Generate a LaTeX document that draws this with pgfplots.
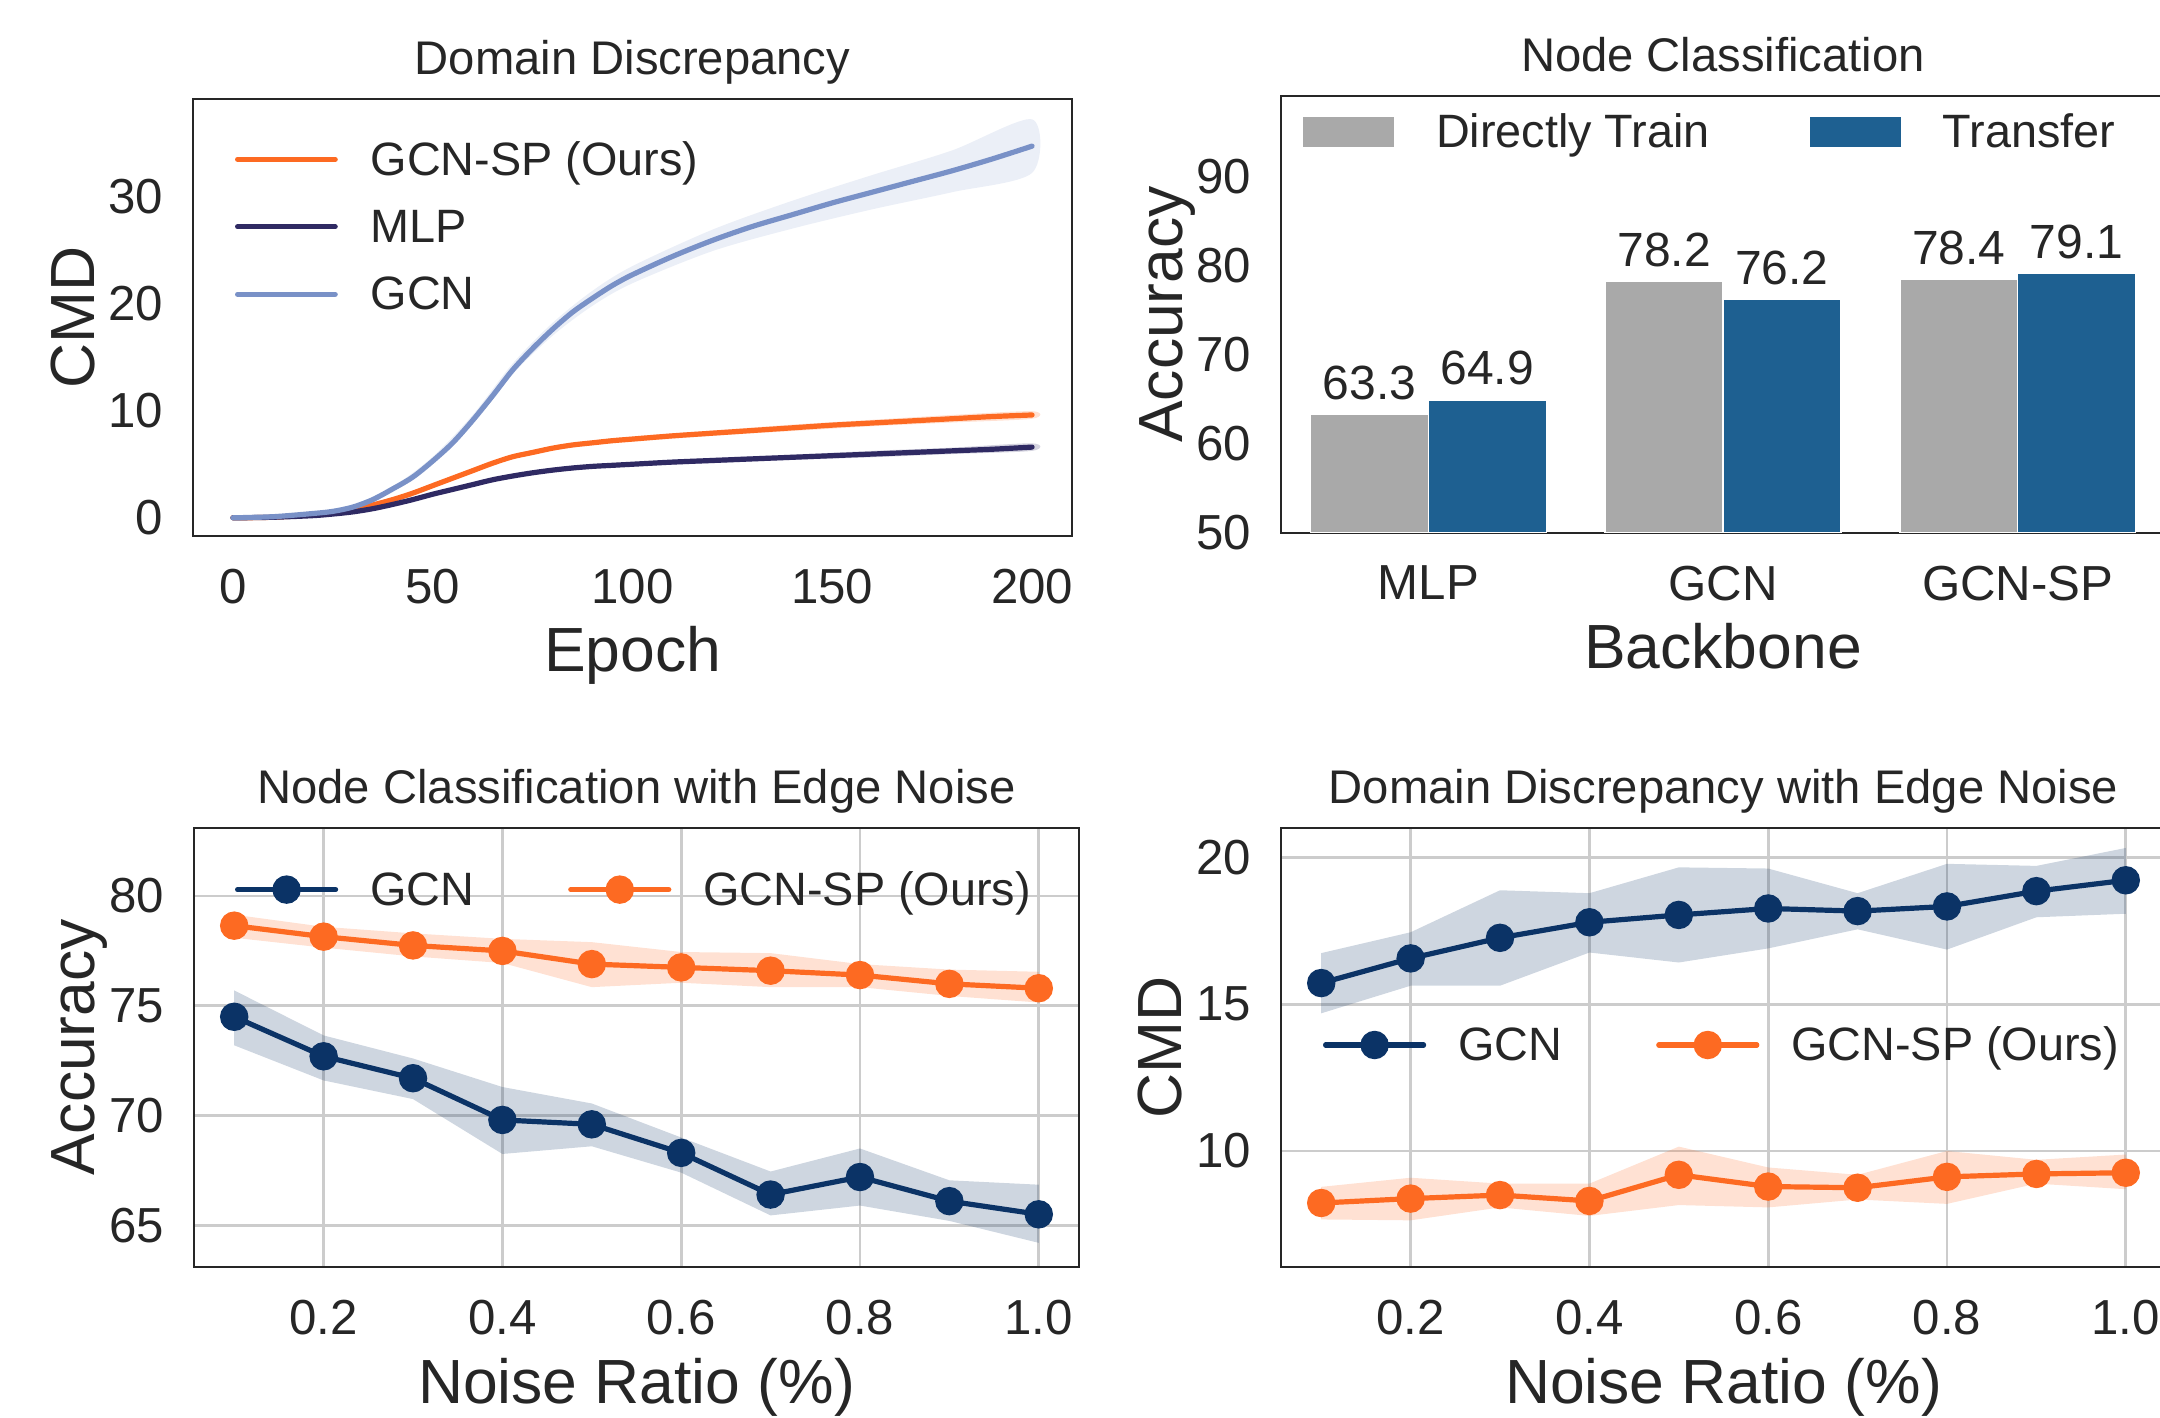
\documentclass[border=0pt]{standalone}
\usepackage{fontspec}
\setmainfont{Liberation Sans}
\usepackage{pgfplots}
\pgfplotsset{compat=1.18}

\definecolor{cor}{RGB}{253,106,34}
\definecolor{cmlp}{RGB}{47,42,99}
\definecolor{cgcn}{RGB}{121,145,199}
\definecolor{cgray}{RGB}{169,169,169}
\definecolor{cblue}{RGB}{30,96,145}
\definecolor{cnavy}{RGB}{11,51,102}
\definecolor{ctxt}{RGB}{38,38,38}
\definecolor{cgrid}{RGB}{204,204,204}

\newcommand{\tickfont}{\fontsize{12.3bp}{14bp}\selectfont}
\newcommand{\labfont}{\fontsize{15.6bp}{18bp}\selectfont}
\newcommand{\titfont}{\fontsize{11.8bp}{14bp}\selectfont}
\newcommand{\legfont}{\fontsize{11.7bp}{14bp}\selectfont}
\newcommand{\barfont}{\fontsize{12bp}{14bp}\selectfont}

\pgfplotsset{
  myaxis/.style={
    scale only axis,
    axis line style={ctxt, line width=0.6bp},
    major tick length=0pt,
    tick style={draw=none},
    /pgf/number format/assume math mode=true,
    tick label style={font=\tickfont, text=ctxt, inner sep=0pt},
    yticklabel style={xshift=-7.3bp},
    xticklabel style={yshift=-8bp},
    every axis title/.style={font=\titfont, text=ctxt, at={(axis description cs:0.5,1)}, anchor=base, yshift=6.1bp, inner sep=0pt},
    xlabel style={font=\labfont, text=ctxt, at={(axis description cs:0.5,-0.31)}, anchor=base, inner sep=0pt},
    ylabel style={font=\labfont, text=ctxt, at={(axis description cs:-0.112,0.5)}, anchor=base, inner sep=0pt},
    legend style={draw=none, fill=none, inner sep=0pt, outer sep=0pt, font=\legfont,
      nodes={inner sep=0pt, text height=9.4bp, text depth=1.6bp, text=ctxt}},
    legend cell align=left,
  },
  noisegrid/.style={
    grid=major, grid style={cgrid, line width=0.7bp},
    xmin=0.055, xmax=1.045,
    xtick={0.2,0.4,0.6,0.8,1.0},
    xticklabel={\pgfmathprintnumber[fixed,fixed zerofill,precision=1]{\tick}},
    legend columns=2,
    legend style={/tikz/every odd column/.append style={column sep=8bp},
                  /tikz/every even column/.append style={column sep=23.5bp}},
    legend image code/.code={\draw[mark repeat=2,mark phase=2,#1] plot coordinates {(0bp,0bp) (12.25bp,0bp) (24.5bp,0bp)};},
  },
}

\begin{document}
\begin{tikzpicture}

% ---------------- Top left: Domain Discrepancy ----------------
\begin{axis}[myaxis,
  at={(48.25bp,-24.75bp)}, anchor=north west,
  width=219.75bp, height=109.25bp,
  xmin=-10, xmax=210, ymin=-1.7, ymax=39.1,
  xtick={0,50,100,150,200}, ytick={0,10,20,30},
  title={Domain Discrepancy}, xlabel={Epoch}, ylabel={CMD},
  legend style={at={(axis description cs:0,1)}, anchor=north west, xshift=10.5bp, yshift=-9.6bp,
    row sep=5.85bp, /tikz/every odd column/.append style={column sep=8.2bp}},
  legend image code/.code={\draw[#1, line cap=round] (0bp,0bp) -- (24.4bp,0bp);},
]
\addplot[draw=none, fill=cor, fill opacity=0.2, smooth, forget plot] coordinates {
(0,0.05)(20,0.35)(30,0.85)(40,1.8)(50,3.1)(60,4.55)(70,5.9)(80,6.7)(90,7.2)(100,7.6)(120,8.15)(140,8.7)(160,9.15)(180,9.6)(200,9.95)
(200,9.25)(180,8.9)(160,8.55)(140,8.1)(120,7.65)(100,7.1)(90,6.8)(80,6.3)(70,5.5)(60,4.25)(50,2.9)(40,1.6)(30,0.75)(20,0.25)(0,-0.05)} -- cycle;
\addplot[draw=none, fill=cmlp, fill opacity=0.2, smooth, forget plot] coordinates {
(0,0.05)(20,0.25)(30,0.6)(40,1.35)(50,2.3)(60,3.25)(70,4.05)(80,4.65)(90,5.0)(100,5.2)(120,5.6)(140,5.9)(160,6.25)(180,6.55)(200,6.95)
(200,6.25)(180,5.95)(160,5.65)(140,5.4)(120,5.1)(100,4.8)(90,4.6)(80,4.25)(70,3.75)(60,2.95)(50,2.1)(40,1.15)(30,0.5)(20,0.15)(0,-0.05)} -- cycle;
\addplot[draw=none, fill=cgcn, fill opacity=0.15, smooth, forget plot] coordinates {
(0,0.1)(20,0.5)(30,1.1)(40,2.9)(50,5.7)(60,9.6)(70,14.4)(80,18.2)(90,21.2)(100,23.5)(120,26.9)(140,29.6)(160,32.0)(180,34.3)(200,37.2)
(200,32.2)(180,30.4)(160,28.8)(140,27.0)(120,24.9)(100,21.9)(90,19.8)(80,17.0)(70,13.4)(60,8.8)(50,5.1)(40,2.5)(30,0.9)(20,0.3)(0,-0.1)} -- cycle;

\addplot[cor, line width=1.3bp, smooth, line cap=round] coordinates {
(0,0)(10,0.05)(20,0.3)(25,0.5)(30,0.8)(35,1.2)(40,1.7)(45,2.3)(50,3.0)(55,3.7)(60,4.4)(65,5.1)(70,5.7)(75,6.1)(80,6.5)(85,6.8)(90,7.0)(95,7.2)(100,7.35)
(110,7.65)(120,7.9)(130,8.15)(140,8.4)(150,8.65)(160,8.85)(170,9.05)(180,9.25)(190,9.45)(200,9.6)};
\addlegendentry{GCN-SP (Ours)}
\addplot[cmlp, line width=1.3bp, smooth, line cap=round] coordinates {
(0,0)(10,0.05)(20,0.2)(25,0.35)(30,0.55)(35,0.85)(40,1.25)(45,1.7)(50,2.2)(55,2.65)(60,3.1)(65,3.55)(70,3.9)(75,4.2)(80,4.45)(85,4.65)(90,4.8)(95,4.9)(100,5.0)
(110,5.2)(120,5.35)(130,5.5)(140,5.65)(150,5.8)(160,5.95)(170,6.1)(180,6.25)(190,6.4)(200,6.6)};
\addlegendentry{MLP}
\addplot[cgcn, line width=1.3bp, smooth, line cap=round] coordinates {
(0,0)(10,0.1)(20,0.4)(25,0.6)(30,1.0)(35,1.7)(40,2.7)(45,3.8)(50,5.3)(55,7.0)(60,9.1)(65,11.4)(70,13.8)(75,15.8)(80,17.6)(85,19.2)(90,20.5)(95,21.7)(100,22.7)
(110,24.4)(120,25.9)(130,27.2)(140,28.3)(150,29.4)(160,30.4)(170,31.4)(180,32.4)(190,33.5)(200,34.7)};
\addlegendentry{GCN}
\end{axis}

% ---------------- Top right: Node Classification ----------------
\begin{axis}[myaxis,
  at={(320.25bp,-24bp)}, anchor=north west,
  width=221bp, height=109.25bp,
  ybar=0pt, bar width=0.4,
  xmin=-0.5, xmax=2.5, ymin=50, ymax=99,
  xtick={0,1,2}, xticklabels={MLP,GCN,GCN-SP}, ytick={50,60,70,80,90},
  title={Node Classification}, xlabel={Backbone}, ylabel={Accuracy},
  nodes near coords,
  every node near coord/.append style={font=\barfont, text=ctxt, anchor=south, inner sep=0pt, yshift=3.5bp},
  legend columns=2,
  legend style={at={(axis description cs:0,1)}, anchor=north west, xshift=5.4bp, yshift=-3.5bp,
    /tikz/every odd column/.append style={column sep=10.5bp},
    /tikz/every even column/.append style={column sep=24.9bp}},
]
\addplot[fill=cgray, draw=white, line width=0.35bp,
  legend image code/.code={\fill[cgray] (0bp,-3.5bp) rectangle (22.5bp,3.5bp);}]
  coordinates {(0,63.3) (1,78.2) (2,78.4)};
\addlegendentry{Directly Train}
\addplot[fill=cblue, draw=white, line width=0.35bp,
  legend image code/.code={\fill[cblue] (0bp,-3.5bp) rectangle (22.5bp,3.5bp);}]
  coordinates {(0,64.9) (1,76.2) (2,79.1)};
\addlegendentry{Transfer}
\end{axis}

% ---------------- Bottom left: Node Classification with Edge Noise ----------------
\begin{axis}[myaxis, noisegrid,
  at={(48.5bp,-207bp)}, anchor=north west,
  width=221.25bp, height=109.75bp,
  ymin=63.1, ymax=83.1, ytick={65,70,75,80},
  title={Node Classification with Edge Noise}, xlabel={Noise Ratio (\%)}, ylabel={Accuracy},
  legend style={at={(axis description cs:0,1)}, anchor=north west, xshift=10.25bp, yshift=-9.9bp},
]
\addplot[draw=none, fill=cnavy, fill opacity=0.2, forget plot] coordinates {
(0.1,75.7)(0.2,73.65)(0.3,72.6)(0.4,71.3)(0.5,70.55)(0.6,69.0)(0.7,67.45)(0.8,68.5)(0.9,67.05)(1.0,66.85)
(1.0,64.2)(0.9,65.2)(0.8,65.9)(0.7,65.45)(0.6,67.4)(0.5,68.6)(0.4,68.25)(0.3,70.75)(0.2,71.6)(0.1,73.2)} -- cycle;
\addplot[draw=none, fill=cor, fill opacity=0.2, forget plot] coordinates {
(0.1,79.15)(0.2,78.6)(0.3,78.3)(0.4,78.05)(0.5,77.9)(0.6,77.45)(0.7,77.4)(0.8,76.9)(0.9,76.65)(1.0,76.55)
(1.0,75.15)(0.9,75.45)(0.8,75.85)(0.7,75.85)(0.6,76.05)(0.5,75.85)(0.4,76.95)(0.3,77.25)(0.2,77.65)(0.1,78.1)} -- cycle;
\addplot[cnavy, line width=1.3bp, line cap=round, mark=*, mark size=2.9bp, mark options={solid, fill=cnavy, draw=cnavy}] coordinates {
(0.1,74.5)(0.2,72.7)(0.3,71.7)(0.4,69.8)(0.5,69.6)(0.6,68.3)(0.7,66.4)(0.8,67.2)(0.9,66.1)(1.0,65.5)};
\addlegendentry{GCN}
\addplot[cor, line width=1.3bp, line cap=round, mark=*, mark size=2.9bp, mark options={solid, fill=cor, draw=cor}] coordinates {
(0.1,78.65)(0.2,78.15)(0.3,77.75)(0.4,77.5)(0.5,76.9)(0.6,76.75)(0.7,76.6)(0.8,76.4)(0.9,76.0)(1.0,75.8)};
\addlegendentry{GCN-SP (Ours)}
\end{axis}

% ---------------- Bottom right: Domain Discrepancy with Edge Noise ----------------
\begin{axis}[myaxis, noisegrid,
  at={(320.25bp,-207bp)}, anchor=north west,
  width=221.25bp, height=109.75bp,
  ymin=6.05, ymax=21.0, ytick={10,15,20},
  title={Domain Discrepancy with Edge Noise}, xlabel={Noise Ratio (\%)}, ylabel={CMD},
  legend style={at={(axis description cs:0,1)}, anchor=north west, xshift=10.5bp, yshift=-48.75bp},
]
\addplot[draw=none, fill=cnavy, fill opacity=0.2, forget plot] coordinates {
(0.1,16.74)(0.2,17.45)(0.3,18.88)(0.4,18.78)(0.5,19.66)(0.6,19.62)(0.7,18.78)(0.8,19.78)(0.9,19.71)(1.0,20.32)
(1.0,18.08)(0.9,17.96)(0.8,16.86)(0.7,17.55)(0.6,16.9)(0.5,16.42)(0.4,16.76)(0.3,15.63)(0.2,15.63)(0.1,14.69)} -- cycle;
\addplot[draw=none, fill=cor, fill opacity=0.2, forget plot] coordinates {
(0.1,8.78)(0.2,9.09)(0.3,8.89)(0.4,8.89)(0.5,10.15)(0.6,9.44)(0.7,9.19)(0.8,10.0)(0.9,9.7)(1.0,9.88)
(1.0,8.7)(0.9,8.89)(0.8,8.2)(0.7,8.35)(0.6,8.08)(0.5,8.16)(0.4,7.79)(0.3,8.08)(0.2,7.64)(0.1,7.67)} -- cycle;
\addplot[cnavy, line width=1.3bp, line cap=round, mark=*, mark size=2.9bp, mark options={solid, fill=cnavy, draw=cnavy}] coordinates {
(0.1,15.72)(0.2,16.56)(0.3,17.26)(0.4,17.79)(0.5,18.04)(0.6,18.26)(0.7,18.17)(0.8,18.33)(0.9,18.85)(1.0,19.22)};
\addlegendentry{GCN}
\addplot[cor, line width=1.3bp, line cap=round, mark=*, mark size=2.9bp, mark options={solid, fill=cor, draw=cor}] coordinates {
(0.1,8.23)(0.2,8.38)(0.3,8.5)(0.4,8.3)(0.5,9.19)(0.6,8.79)(0.7,8.75)(0.8,9.12)(0.9,9.22)(1.0,9.26)};
\addlegendentry{GCN-SP (Ours)}
\end{axis}

\pgfresetboundingbox
\path[use as bounding box] (0bp,0bp) rectangle (540bp,-354.5bp);
\end{tikzpicture}
\end{document}
